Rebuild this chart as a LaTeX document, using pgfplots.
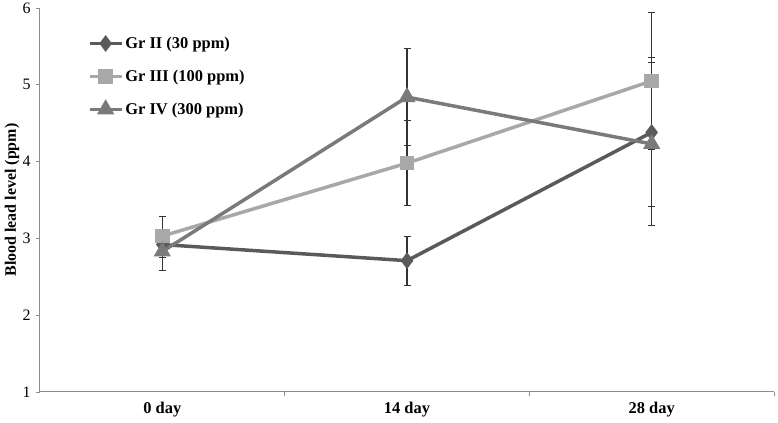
\documentclass[border=0pt]{standalone}
\usepackage{fontspec}
\setmainfont{Liberation Serif}
\usepackage{pgfplots}
\pgfplotsset{compat=1.18}
\definecolor{grII}{HTML}{5A5A5A}
\definecolor{grIII}{HTML}{A8A8A8}
\definecolor{grIV}{HTML}{7A7A7A}
\definecolor{axgray}{HTML}{8C8C8C}
\definecolor{errgray}{HTML}{333333}
\begin{document}
\begin{tikzpicture}
\begin{axis}[
    at={(0,0)}, anchor=south west,
    scale only axis, width=734bp, height=384bp,
    xmin=-0.5, xmax=2.5, ymin=1, ymax=6,
    axis lines*=left,
    axis line style={axgray, line width=1bp},
    xtick={0.5,1.5,2.5}, xticklabels={},
    extra x ticks={0,1,2},
    extra x tick labels={0 day,14 day,28 day},
    extra x tick style={major tick length=0pt},
    x tick label style={font=\fontsize{16.5}{19}\selectfont\bfseries, yshift=-7bp},
    ytick={1,2,3,4,5,6},
    y tick label style={font=\fontsize{16}{19}\selectfont, xshift=-2bp},
    /pgf/number format/assume math mode=true,
    tick align=outside, major tick length=4bp,
    tick style={axgray, line width=0.8bp},
    ylabel={Blood lead level (ppm)},
    ylabel style={font=\fontsize{16}{19}\selectfont\bfseries, at={(axis description cs:-0.038,0.5)}, anchor=center},
    legend style={at={(axis description cs:0.065,0.93)}, anchor=north west, draw=none, fill=none,
        font=\fontsize{16.5}{19}\selectfont\bfseries, row sep=16bp, inner sep=0pt},
    legend cell align=left,
    legend image code/.code={\draw[mark repeat=2, mark phase=2] plot coordinates {(0bp,0bp) (16bp,0bp) (32bp,0bp)};},
    error bars/error bar style={errgray, line width=1.1bp},
    error bars/error mark options={errgray, mark size=3.5bp, line width=1.1bp, rotate=90},
]
\addplot[grII, line width=3.5bp, mark=diamond*, mark size=5.5bp, mark options={fill=grII},
    error bars/.cd, y dir=both, y explicit]
    coordinates {(0,2.92) +- (0,0.17) (1,2.71) +- (0,0.32) (2,4.38) +- (0,0.97)};
\addlegendentry{Gr II (30 ppm)}
\addplot[grIII, line width=3.5bp, mark=square*, mark size=5.5bp, mark options={fill=grIII},
    error bars/.cd, y dir=both, y explicit]
    coordinates {(0,3.03) +- (0,0.25) (1,3.98) +- (0,0.55) (2,5.05) +- (0,0.89)};
\addlegendentry{Gr III (100 ppm)}
\addplot[grIV, line width=3.5bp, mark=triangle*, mark size=6.5bp, mark options={fill=grIV},
    error bars/.cd, y dir=both, y explicit]
    coordinates {(0,2.83) +- (0,0.25) (1,4.84) +- (0,0.63) (2,4.23) +- (0,1.06)};
\addlegendentry{Gr IV (300 ppm)}
\end{axis}
\pgfresetboundingbox
\path (-40bp,-31bp) rectangle (738bp,392bp);
\end{tikzpicture}
\end{document}
